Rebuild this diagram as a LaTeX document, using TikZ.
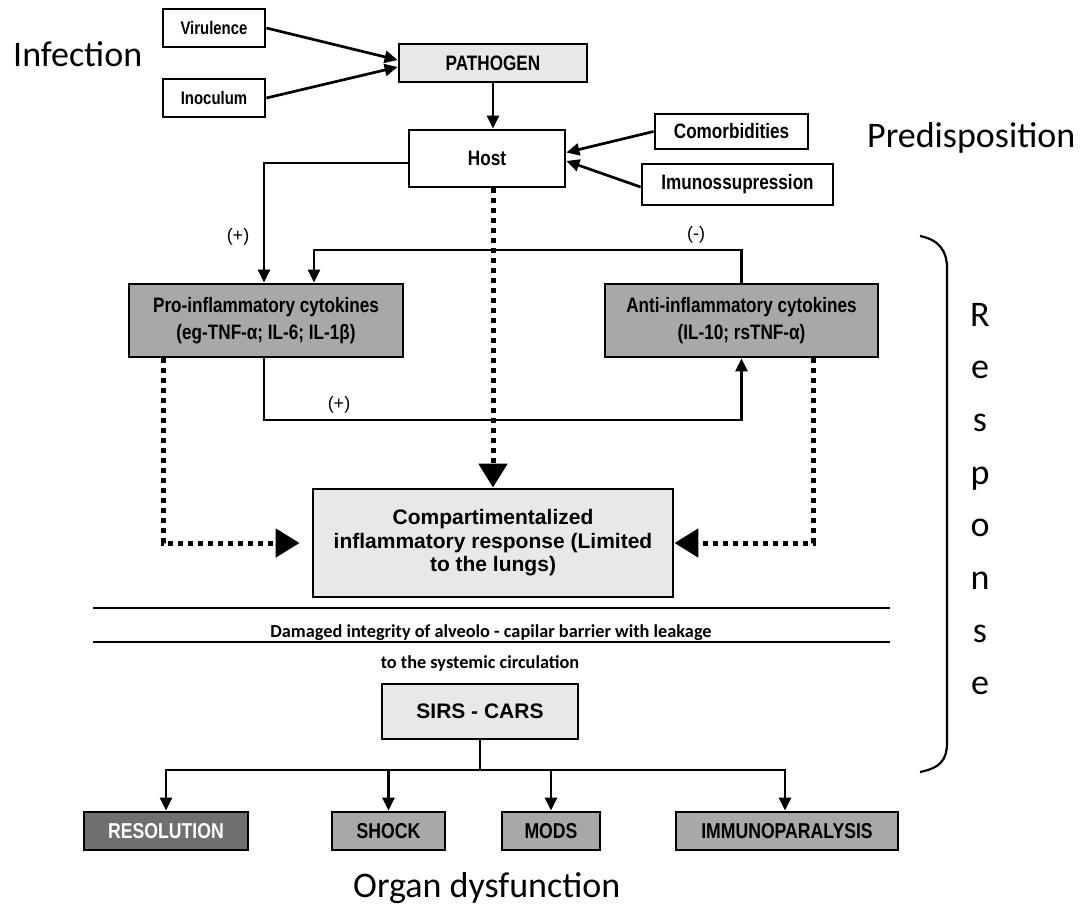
\documentclass[tikz,border=0pt]{standalone}
\usepackage{fontspec}
\setmainfont{Liberation Sans}
\newfontfamily\condf{Liberation Sans}[FakeStretch=0.82]
\newfontfamily\calib{Carlito}
\usetikzlibrary{arrows.meta}
\definecolor{lg}{gray}{0.91}
\definecolor{mg}{gray}{0.66}
\definecolor{dg}{gray}{0.44}
\begin{document}
\begin{tikzpicture}[x=1pt,y=-1pt,
  box/.style={draw=black, line width=2.8pt, inner sep=0pt, align=center,
    font=\condf\bfseries\fontsize{20.9}{27}\selectfont},
  arr/.style={line width=2.7pt, -{Triangle[length=13pt,width=12pt]}},
  plain/.style={line width=2.7pt},
  dotarr/.style={line width=5pt, dash pattern=on 5pt off 5pt,
    -{Triangle[length=24pt,width=28pt]}},
  big/.style={font=\calib\fontsize{36}{40}\selectfont, inner sep=0pt},
  sign/.style={font=\fontsize{18}{20}\selectfont, inner sep=0pt},
  bar/.style={line width=2.7pt}]
\useasboundingbox (0,0) rectangle (1084,915);

% nodes
\node[box, fill=white, minimum width=102pt, minimum height=38pt,
  font=\condf\bfseries\fontsize{18.2}{20}\selectfont] (vir) at (214,28) {Virulence};
\node[box, fill=white, minimum width=102pt, minimum height=38pt,
  font=\condf\bfseries\fontsize{18.2}{20}\selectfont] (ino) at (214,98) {Inoculum};
\node[box, fill=lg, minimum width=188pt, minimum height=38pt] (path) at (493,63) {PATHOGEN};
\node[box, fill=white, minimum width=156pt, minimum height=57pt] (host) at (487,158.5) {Host};
\node[box, fill=white, minimum width=153pt, minimum height=35pt] (com) at (731.5,131.5) {Comorbidities};
\node[box, fill=white, minimum width=191pt, minimum height=41pt] (imu) at (737.5,184.5) {Imunossupression};
\node[box, fill=mg, minimum width=274pt, minimum height=73pt] (pro) at (266,320.5)
  {Pro-inflammatory cytokines\\(eg-TNF-α; IL-6; IL-1β)};
\node[box, fill=mg, minimum width=273pt, minimum height=73pt] (anti) at (741.5,320.5)
  {Anti-inflammatory cytokines\\(IL-10; rsTNF-α)};
\node[box, fill=lg, minimum width=360pt, minimum height=108pt,
  font=\bfseries\fontsize{21}{23.5}\selectfont] (comp) at (493,543)
  {Compartimentalized\\inflammatory response (Limited\\to the lungs)};
\node[box, fill=lg, minimum width=196pt, minimum height=55pt,
  font=\bfseries\fontsize{21}{24}\selectfont] (sirs) at (480,711.5) {SIRS - CARS};
\node[box, fill=dg, text=white, minimum width=164pt, minimum height=38pt,
  font=\condf\bfseries\fontsize{21.5}{22}\selectfont] (res) at (166,831) {RESOLUTION};
\node[box, fill=mg, minimum width=113pt, minimum height=38pt,
  font=\condf\bfseries\fontsize{21.5}{22}\selectfont] (shock) at (388.5,831) {SHOCK};
\node[box, fill=mg, minimum width=98pt, minimum height=38pt,
  font=\condf\bfseries\fontsize{21.5}{22}\selectfont] (mods) at (551,831) {MODS};
\node[box, fill=mg, minimum width=222pt, minimum height=38pt,
  font=\condf\bfseries\fontsize{21.5}{22}\selectfont] (imm) at (787,831) {IMMUNOPARALYSIS};

% helper coordinates
\coordinate (xA) at (264,0);
\coordinate (xB) at (314,0);
\coordinate (xC) at (163,0);
\coordinate (xD) at (813,0);
\coordinate (yL) at (0,250);
\coordinate (yP) at (0,420);
\coordinate (yH) at (0,770);

% connectors
\draw[arr] (vir.east) -- ([yshift=3pt]path.west);
\draw[arr] (ino.east) -- ([yshift=-4pt]path.west);
\draw[arr] (path.south) -- (path.south |- host.north);
\draw[arr] (com.west) -- ([yshift=6pt]host.east);
\draw[arr] ([yshift=-2.5pt]imu.west) -- ([yshift=-2.5pt]host.east);
\draw[arr] ([yshift=-4.5pt]host.west) -| (pro.north -| xA);
\draw[arr] (anti.north) -- (anti.north |- yL) -| (pro.north -| xB);
\draw[arr] (pro.south -| xA) |- (anti.south |- yP) -- (anti.south);
\draw[dotarr] (pro.south -| xC) |- ([xshift=-12pt]comp.west);
\draw[dotarr] (anti.south -| xD) |- (comp.east);
\draw[dotarr] (host.south -| comp.north) -- (comp.north);
\draw[plain] (sirs.south) -- (sirs.south |- yH);
\draw[arr] (sirs.south |- yH) -| (res.north);
\draw[arr] (sirs.south |- yH) -| (shock.north);
\draw[arr] (sirs.south |- yH) -| (mods.north);
\draw[arr] (sirs.south |- yH) -| ([xshift=-2pt]imm.north);

% labels
\node[sign] (l1) at (238,237) {(+)};
\node[sign] (l2) at (339,405) {(+)};
\node[sign] (l3) at (696,235) {(-)};

% separator
\draw[bar] (93,608) -- (890,608);
\draw[bar] (93,642) -- (890,642);
\node[anchor=base, inner sep=0pt, font=\calib\bfseries\fontsize{18.3}{20}\selectfont] (dmg) at (491,637)
  {Damaged integrity of alveolo - capilar barrier with leakage};
\node[anchor=base, inner sep=0pt, font=\calib\bfseries\fontsize{18.3}{20}\selectfont] (sys) at (480,668)
  {to the systemic circulation};

% big labels
\node[big, anchor=base west] (inf) at (13,67) {Infection};
\node[big, anchor=base west] (pre) at (867,148) {Predisposition};
\node[big, anchor=base west] (org) at (353,897) {Organ dysfunction};
\foreach \c [count=\i from 0] in {R,e,s,p,o,n,s,e} {
  \node[big, anchor=base] (r\i) at (980,326+52.7*\i) {\c};
}

% brace
\draw[line width=2.2pt] (920,236) .. controls (940,240) and (947,252) .. (947,268)
  -- (947,743) .. controls (947,760) and (940,768) .. (920,772);
\end{tikzpicture}
\end{document}
